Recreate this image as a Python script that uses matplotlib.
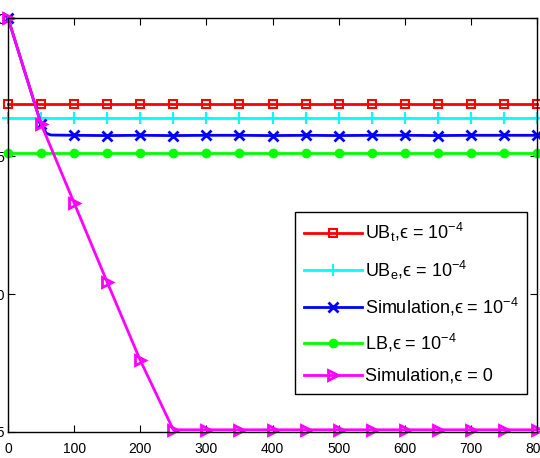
import numpy as np
import matplotlib.pyplot as plt

plt.rcParams['font.family'] = ['Liberation Sans', 'DejaVu Sans']
plt.rcParams['mathtext.fontset'] = 'custom'
plt.rcParams['mathtext.rm'] = 'Liberation Sans'
plt.rcParams['mathtext.it'] = 'Liberation Sans'

# x positions of the markers (every 50 iterations)
x_mark = np.arange(0, 801, 50)

ub_t = [-3.12] * len(x_mark)
ub_e = [-3.62] * len(x_mark)
lb = [-4.89] * len(x_mark)

# simulation with epsilon = 1e-4 (denser near the knee)
sim_x = [0, 50, 58, 65, 100, 150, 200, 250, 300, 350, 400, 450, 500, 550, 600, 650, 700, 750, 800]
sim_y = [0, -3.84, -4.18, -4.24, -4.25, -4.26, -4.25, -4.26, -4.25, -4.25, -4.26, -4.25, -4.26, -4.25, -4.25, -4.26, -4.25, -4.25, -4.25]
sim_marks = [0, 1, 4, 5, 6, 7, 8, 9, 10, 11, 12, 13, 14, 15, 16, 17, 18]

# simulation with epsilon = 0
sim0 = [0, -3.84, -6.7, -9.57, -12.4, -14.92, -14.92, -14.92, -14.92, -14.92,
        -14.92, -14.92, -14.92, -14.92, -14.92, -14.92, -14.92]

eps = '\u03f5'
labels = [
    r'UB$_\mathrm{t}$,' + eps + r' = 10$^{\mathrm{-4}}$',
    r'UB$_\mathrm{e}$,' + eps + r' = 10$^{\mathrm{-4}}$',
    'Simulation,' + eps + r' = 10$^{\mathrm{-4}}$',
    'LB,' + eps + r' = 10$^{\mathrm{-4}}$',
    'Simulation,' + eps + ' = 0',
]

fig = plt.figure(figsize=(5.4, 4.58), dpi=100)
ax = fig.add_axes([8 / 540, 26 / 458, 529 / 540, 414 / 458])

lw = 2
ax.plot(x_mark, ub_t, color='#ff0000', lw=lw, marker='s', ms=6, mfc='none', mew=1.5,
        clip_on=False, label=labels[0])
ax.plot(x_mark, ub_e, color='#00ffff', lw=lw, marker='+', ms=9, mew=1.5,
        clip_on=False, label=labels[1])
ax.plot(sim_x, sim_y, color='#0000ff', lw=lw, marker='x', ms=7, mew=2, markevery=sim_marks,
        clip_on=False, label=labels[2])
ax.plot(x_mark, lb, color='#00ff00', lw=lw, marker='o', ms=6,
        clip_on=False, label=labels[3])
ax.plot(x_mark, sim0, color='#ff00ff', lw=lw, marker='>', ms=7, mfc='none', mew=2,
        clip_on=False, label=labels[4])

ax.set_xlim(0, 800)
ax.set_ylim(-15, 0)
ax.set_xticks(np.arange(0, 801, 100))
ax.set_yticks([-15, -10, -5, 0])
ax.tick_params(direction='in', top=True, right=True, labelsize=10, length=5)
ax.tick_params(axis='x', pad=7)
ax.tick_params(axis='y', pad=2)
for s in ax.spines.values():
    s.set_linewidth(1)

leg = ax.legend(loc='lower right', bbox_to_anchor=(0.999, 0.07), fontsize=13,
                fancybox=False, edgecolor='black', framealpha=1,
                handlelength=3.2, handletextpad=0.15, labelspacing=0.78, borderpad=0.5)
leg.get_frame().set_linewidth(1)

fig.savefig('out.png', dpi=100)
